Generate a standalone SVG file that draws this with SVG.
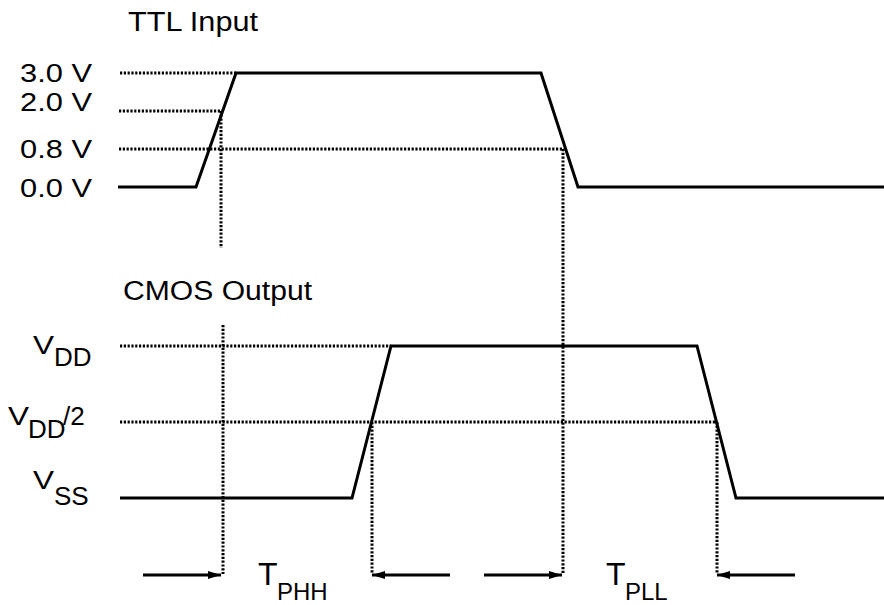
<svg xmlns="http://www.w3.org/2000/svg" width="884" height="605" viewBox="0 0 884 605">
<style>
.wave{fill:none;stroke:#000;stroke-width:3;stroke-linejoin:miter}
.dot{fill:none;stroke:#000;stroke-width:3;stroke-dasharray:2.2 1.6}
.arr{fill:none;stroke:#000;stroke-width:3}
text{font-family:"Liberation Sans",Arial,Helvetica,sans-serif;fill:#000}
.lbl{font-size:26px}
.ttl{font-size:27px}
.T{font-size:32px}
.sub{font-size:24px}
</style>
<defs>
<marker id="ah" viewBox="0 0 13 8" refX="13" refY="4" markerWidth="13" markerHeight="8" markerUnits="userSpaceOnUse" orient="auto">
<path d="M0,0 L13,4 L0,8 Z" fill="#000"/>
</marker>
</defs>
<rect width="884" height="605" fill="#fff"/>
<g id="titles">
<text class="ttl" x="128" y="31" textLength="130" lengthAdjust="spacingAndGlyphs">TTL Input</text>
<text class="ttl" x="123" y="300" textLength="189" lengthAdjust="spacingAndGlyphs">CMOS Output</text>
</g>
<g id="ttl-labels">
<text class="lbl" x="20" y="82" textLength="72" lengthAdjust="spacingAndGlyphs">3.0 V</text>
<text class="lbl" x="20" y="111" textLength="72" lengthAdjust="spacingAndGlyphs">2.0 V</text>
<text class="lbl" x="20" y="158" textLength="72" lengthAdjust="spacingAndGlyphs">0.8 V</text>
<text class="lbl" x="20" y="197" textLength="72" lengthAdjust="spacingAndGlyphs">0.0 V</text>
</g>
<g id="cmos-labels">
<text class="lbl" x="33" y="354" textLength="21" lengthAdjust="spacingAndGlyphs">V</text>
<text class="lbl" x="54" y="366">DD</text>
<text class="lbl" x="8" y="425" textLength="21" lengthAdjust="spacingAndGlyphs">V</text>
<text class="lbl"><tspan x="28" y="438">DD</tspan><tspan x="63" y="425">/2</tspan></text>
<text class="lbl" x="33" y="489" textLength="21" lengthAdjust="spacingAndGlyphs">V</text>
<text class="lbl" x="54" y="505">SS</text>
</g>
<g id="timing-labels">
<text><tspan class="T" x="258" y="585">T</tspan><tspan class="sub" x="277" y="600">PHH</tspan></text>
<text><tspan class="T" x="606" y="585">T</tspan><tspan class="sub" x="625" y="600">PLL</tspan></text>
</g>
<g id="guides">
<path class="dot" d="M120,73 H236 M119,111 H222 M119,149 H564 M120,346 H391 M120,422 H717"/>
<path class="dot" d="M221,111 V248 M223,325 V574 M563,149 V574 M372,422 V573 M717,422 V573"/>
</g>
<g id="waveforms">
<path id="ttl-wave" class="wave" d="M118,187 H196 L236,73 H541 L578,187 H884"/>
<path id="cmos-wave" class="wave" d="M120,498 H352 L391,346 H697 L736,498 H884"/>
</g>
<g id="connectors">
<line class="arr" x1="143" y1="575" x2="221" y2="575" marker-end="url(#ah)"/>
<line class="arr" x1="450" y1="575" x2="372" y2="575" marker-end="url(#ah)"/>
<line class="arr" x1="484" y1="575" x2="562" y2="575" marker-end="url(#ah)"/>
<line class="arr" x1="795" y1="575" x2="717" y2="575" marker-end="url(#ah)"/>
</g>
</svg>
